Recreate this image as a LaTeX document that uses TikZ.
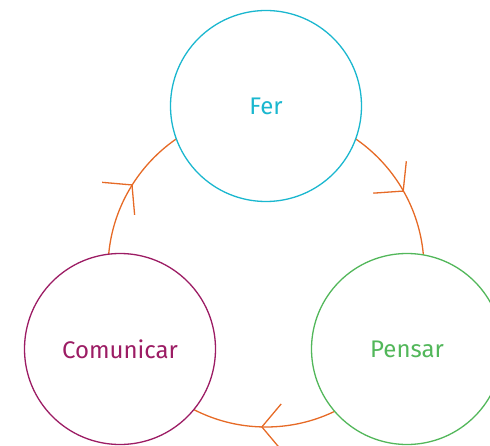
\documentclass[tikz,border=0pt]{standalone}
\usepackage{fontspec}
\setmainfont{Fira Sans}
\usetikzlibrary{arrows.meta,calc}
\definecolor{ferblue}{HTML}{1AB7CF}
\definecolor{pensgreen}{HTML}{52B75A}
\definecolor{comred}{HTML}{9C1C64}
\definecolor{cycorange}{HTML}{E66A26}

\begin{document}
\begin{tikzpicture}[x=1pt,y=1pt,
  stage/.style={circle,draw=#1,text=#1,fill=white,line width=1.3pt,minimum size=191pt,inner sep=0pt,font=\fontsize{24}{28}\selectfont},
  tip/.style={cycorange,line width=1.3pt,-{Straight Barb[angle=100:30pt]}}]
\useasboundingbox (0,0) rectangle (490,445);

\coordinate (cyc) at (266,176);
\draw[cycorange,line width=1.3pt] (cyc) circle[radius=158];

\node[stage=ferblue] (fer) at (266,339) {Fer};
\node[stage=comred] (com) at (120,96) {Comunicar};
\node[stage=pensgreen] (pen) at (407,96) {Pensar};

\coordinate (t1) at ($(cyc)+(29.3:158)$);
\coordinate (t2) at ($(cyc)+(147.6:158)$);
\coordinate (t3) at ($(cyc)+(268.2:158)$);

\draw[tip] (t1) ++(134:0.5) -- (t1);
\draw[tip] (t2) ++(225:0.5) -- (t2);
\draw[tip] (t3) ++(0:0.5) -- (t3);

\end{tikzpicture}
\end{document}
